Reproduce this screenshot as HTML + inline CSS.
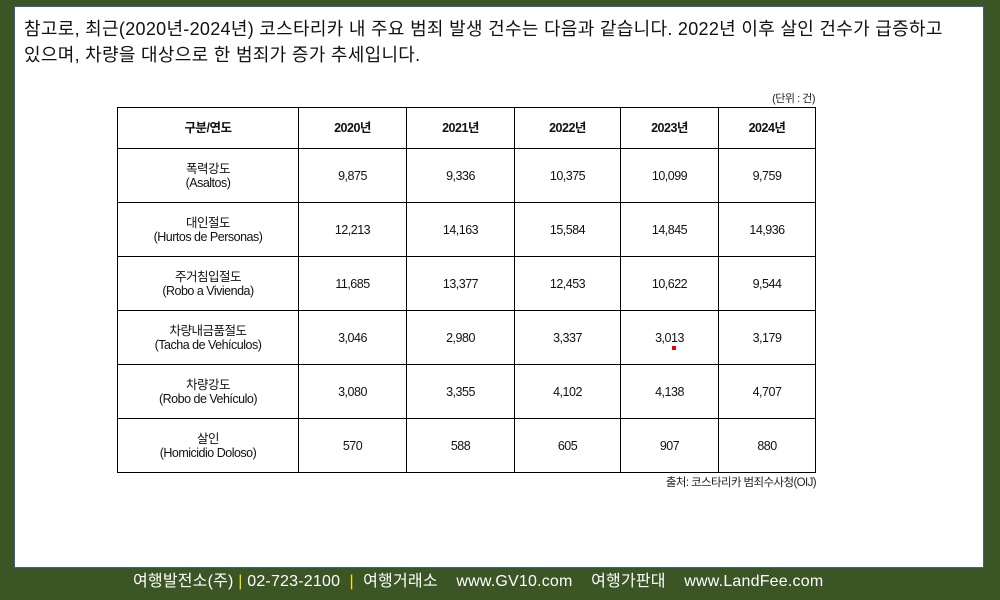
<!DOCTYPE html>
<html><head><meta charset="utf-8"><style>
body{margin:0;width:1000px;height:600px;background:#3b5524;position:relative;overflow:hidden;font-family:"Liberation Sans","Noto Sans CJK KR",sans-serif}
.panel{position:absolute;left:14px;top:6px;width:970px;height:562px;background:#fff;border:1px solid #3a5fa8;box-sizing:border-box}
.title{position:absolute;left:24px;top:16px;font-size:18px;line-height:26px;color:#111;width:970px;letter-spacing:0.3px;white-space:nowrap}
.unit{position:absolute;left:760px;top:90px;font-size:11px;color:#222;width:55px;text-align:right;letter-spacing:-0.5px}
table{position:absolute;left:117px;top:107px;border-collapse:collapse;font-size:12.5px;color:#111;letter-spacing:-0.5px}
td{border:1px solid #000;text-align:center;padding:0;line-height:14px}
tr.h td{font-weight:bold;height:40px}
tr.r td{height:53px}
.src{position:absolute;left:600px;top:474px;width:216px;text-align:right;font-size:11.5px;color:#222;letter-spacing:-0.6px}
.foot{position:absolute;left:133px;top:569px;width:700px;text-align:left;color:#fff;font-size:16px;line-height:26px;letter-spacing:0.2px;white-space:nowrap}
.y{color:#ffe000}
.dot{position:absolute;left:672px;top:346px;width:4px;height:4px;background:#e00}
</style></head><body>
<div class="panel"></div>
<div class="title">참고로, 최근(2020년-2024년) 코스타리카 내 주요 범죄 발생 건수는 다음과 같습니다. 2022년 이후 살인 건수가 급증하고<br>있으며, 차량을 대상으로 한 범죄가 증가 추세입니다.</div>
<div class="unit">(단위 : 건)</div>
<table>
<colgroup><col style="width:181px"><col style="width:108px"><col style="width:108px"><col style="width:106px"><col style="width:98px"><col style="width:97px"></colgroup>
<tr class="h"><td>구분/연도</td><td>2020년</td><td>2021년</td><td>2022년</td><td>2023년</td><td>2024년</td></tr>
<tr class="r"><td>폭력강도<br>(Asaltos)</td><td>9,875</td><td>9,336</td><td>10,375</td><td>10,099</td><td>9,759</td></tr>
<tr class="r"><td>대인절도<br>(Hurtos de Personas)</td><td>12,213</td><td>14,163</td><td>15,584</td><td>14,845</td><td>14,936</td></tr>
<tr class="r"><td>주거침입절도<br>(Robo a Vivienda)</td><td>11,685</td><td>13,377</td><td>12,453</td><td>10,622</td><td>9,544</td></tr>
<tr class="r"><td>차량내금품절도<br>(Tacha de Vehículos)</td><td>3,046</td><td>2,980</td><td>3,337</td><td>3,013</td><td>3,179</td></tr>
<tr class="r"><td>차량강도<br>(Robo de Vehículo)</td><td>3,080</td><td>3,355</td><td>4,102</td><td>4,138</td><td>4,707</td></tr>
<tr class="r"><td>살인<br>(Homicidio Doloso)</td><td>570</td><td>588</td><td>605</td><td>907</td><td>880</td></tr>
</table>
<div class="dot"></div>
<div class="src">출처: 코스타리카 범죄수사청(OIJ)</div>
<div class="foot">여행발전소(주) <span class="y">|</span> 02-723-2100 &nbsp;<span class="y">|</span>&nbsp; 여행거래소 &nbsp;&nbsp; www.GV10.com &nbsp;&nbsp; 여행가판대 &nbsp;&nbsp; www.LandFee.com</div>
</body></html>
